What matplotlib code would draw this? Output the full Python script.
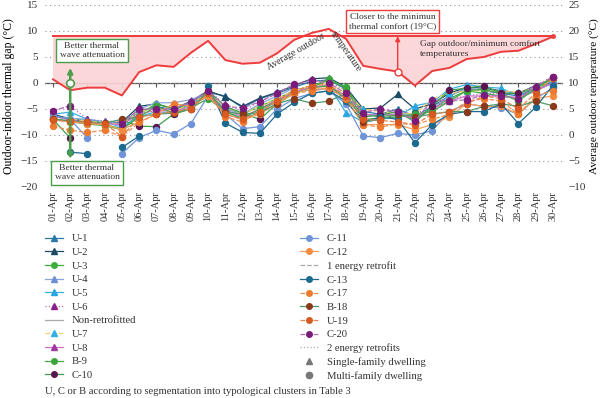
import numpy as np
import matplotlib
matplotlib.use("Agg")
import matplotlib.pyplot as plt
from matplotlib.lines import Line2D

plt.rcParams['font.family'] = ['Liberation Serif', 'DejaVu Serif']
plt.rcParams['axes.unicode_minus'] = True

nan = np.nan
days = ["01-Apr", "02-Apr", "03-Apr", "04-Apr", "05-Apr", "06-Apr", "07-Apr", "08-Apr", "09-Apr", "10-Apr",
        "11-Apr", "12-Apr", "13-Apr", "14-Apr", "15-Apr", "16-Apr", "17-Apr", "18-Apr", "19-Apr", "20-Apr",
        "21-Apr", "22-Apr", "23-Apr", "24-Apr", "25-Apr", "26-Apr", "27-Apr", "28-Apr", "29-Apr", "30-Apr"]

outdoor_temp = [10.7, 8.6, 9.1, 9.1, 7.6, 12.1, 13.4, 13.1, 15.8, 18.1, 14.4, 13.7, 13.9, 15.7, 18.3,
                19.6, 20.4, 18.5, 13.3, 12.7, 12.2, 9.5, 12.3, 12.9, 14.6, 15.0, 16.0, 16.2, 17.5, 18.9]
comfort_temp = 19

# Outdoor-indoor thermal gap per dwelling (°C)
U1 = [-6.2, -6.8, -7.2, -7.6, -8.0, -5.5, -4.5, -5.2, -3.8, -1.8, -2.5, -4.8, -3.0, -2.0, -0.8, 0.3, 0.6, -1.2, -5.5, -6.0, -5.0, -6.5, -4.5, -2.5, -1.0, -1.5, -2.0, -2.5, -1.0, 0.2]
U2 = [-6.0, -7.0, -7.5, -7.8, -7.5, -4.5, -4.0, -5.0, -3.5, -1.5, -2.7, -4.5, -2.9, -1.8, -0.5, 0.8, 1.0, -0.8, -5.0, -4.8, -2.2, -5.0, -4.0, -2.0, -0.8, -1.0, -1.5, -2.0, -0.5, 0.5]
U3 = [-6.8, -7.5, -7.8, -8.0, -8.8, -6.0, -4.0, -5.0, -4.2, -2.5, -4.8, -6.0, -4.5, -3.0, -1.5, -0.5, 0.5, -0.8, -6.0, -6.5, -6.0, -7.0, -5.0, -3.0, -1.5, -2.0, -2.5, -3.0, -1.5, 1.0]
U4 = [-6.5, -6.8, -7.0, -7.5, -7.8, -5.0, -3.8, -3.8, -3.2, -2.0, -5.0, -6.0, -4.0, -2.5, -1.0, -1.5, -1.0, -3.0, -6.5, -6.0, -5.5, -6.5, -5.0, -2.5, -1.0, -1.5, -1.8, -2.0, -1.0, -0.2]
U5 = [-6.0, -5.6, -7.0, -7.5, -8.5, -6.5, -5.5, -5.8, -4.0, -2.2, -5.5, -7.0, -5.5, -3.5, -1.8, -0.8, -0.5, -5.7, -7.5, -7.0, -6.5, -4.4, -3.7, -1.2, -0.3, -0.8, -1.0, -2.5, -1.5, 0.0]
U6 = [-5.3, -4.4, -7.0, -7.3, -7.5, -5.0, -5.0, -5.0, -3.5, -1.5, -4.0, -5.5, -3.5, -2.0, -0.3, 0.5, 0.3, -1.5, -5.5, -5.2, -5.5, -6.0, -4.5, -3.0, -2.5, -2.0, -2.0, -2.0, -0.5, 1.2]
U7 = [-6.5, -7.0, -7.3, -7.6, -8.0, -5.5, -5.0, -5.5, -4.0, -2.0, -4.5, -6.0, -4.5, -3.0, -1.5, -0.5, 0.0, -2.0, -5.0, -5.5, -5.8, -6.0, -3.0, -2.0, -1.5, -1.5, -1.5, -1.8, -1.0, 0.5]
U8 = [-6.3, -7.2, -7.5, -7.8, -8.0, -6.0, -5.2, -5.5, -4.5, -2.2, -5.2, -6.5, -5.0, -3.2, -1.8, -0.8, -0.5, -2.5, -6.0, -6.2, -6.0, -6.8, -5.0, -3.5, -2.5, -2.5, -2.5, -2.8, -1.5, 0.0]
B9 = [-7.0, -7.3, -7.9, -8.2, -9.0, -6.5, -4.5, -5.8, -4.8, -3.0, -5.5, -6.8, -5.0, -3.5, -2.0, -1.0, 0.8, -1.0, -7.0, -6.8, -6.5, -6.0, -5.5, -3.5, -1.5, -1.2, -2.0, -3.5, -1.0, 1.0]
C10 = [-7.0, -10.6, nan, nan, -7.2, -8.3, -8.4, -6.0, -5.0, -1.5, -4.5, -5.8, -7.0, -4.0, -2.0, -1.0, -0.5, -3.0, -6.5, -6.2, -5.5, -7.5, -4.5, -1.4, -1.0, -0.5, -2.0, -2.0, -1.0, 1.2]
C11 = [-6.3, -7.0, -10.6, nan, -13.6, -10.5, -9.1, -9.8, -7.8, -2.5, -6.0, -8.8, -8.4, -5.0, -3.0, -2.0, -1.5, -4.0, -10.2, -10.5, -9.7, -10.0, -9.2, -5.5, -4.0, -4.5, -4.8, -6.0, -3.0, -1.0]
C12 = [-7.0, -7.5, -7.8, -8.0, -9.0, -7.5, -6.0, -4.0, -4.5, -2.5, -6.0, -7.0, -6.0, -4.0, -2.0, -1.0, -1.0, -3.0, -8.0, -8.0, -8.0, -9.0, -8.0, -6.5, -4.0, -4.5, -4.5, -6.0, -3.0, -2.5]
C13 = [nan, -13.3, -13.6, nan, -12.4, -10.2, nan, nan, nan, -0.5, -7.7, -9.5, -9.7, -6.0, -3.7, -2.0, -1.5, -3.5, -7.5, -6.5, -7.0, -11.5, -8.0, -6.0, -5.5, -5.5, -4.0, -7.8, -4.7, -0.5]
C17 = [-8.3, -9.1, -9.5, -9.1, -10.3, -7.6, -6.0, -4.0, -4.5, -2.0, -6.5, -7.5, -5.5, -3.5, -2.0, -1.5, -1.0, -3.0, -8.0, -8.5, -7.8, -8.0, -7.0, -6.0, -3.5, -3.0, -3.5, -6.0, -2.5, -1.5]
B18 = [-7.0, -7.3, -7.5, -7.7, -7.0, -6.5, -6.0, -5.8, -5.0, -1.8, -5.5, -6.0, -5.7, -4.0, -3.0, -3.9, -3.5, -2.0, -7.5, -7.0, -6.0, -6.5, -6.0, -5.5, -5.5, -4.5, -4.0, -4.5, -3.5, -4.4]
U19 = [-7.2, -7.4, -7.6, -7.8, -10.3, -6.5, -6.0, -5.5, -5.0, -2.0, -6.0, -7.0, -5.5, -3.5, -1.5, -0.5, -0.3, -2.5, -7.0, -7.2, -7.5, -8.0, -6.0, -5.5, -4.0, -2.5, -3.0, -5.0, -2.0, 1.0]
C20 = [-5.3, -4.4, nan, nan, -7.8, -5.0, -5.1, -5.0, -3.7, -1.6, -4.5, -4.8, -3.6, -2.0, -0.2, 0.5, 0.0, -2.0, -5.7, -5.0, -5.5, -7.4, -3.2, -3.5, -3.2, -2.4, -2.5, -3.0, -0.7, 1.2]

series = [
    ("U-1", U1, '#2a78a8', '#2a78a8', '-', '^'),
    ("U-2", U2, '#1b4c63', '#1b4c63', '-', '^'),
    ("U-3", U3, '#3cae3c', '#3cae3c', '-', 'o'),
    ("U-4", U4, '#8aa6dc', '#6e8fd4', '-', '^'),
    ("U-5", U5, '#3ab0e0', '#2aa6e0', '-', '^'),
    ("U-6", U6, '#c070c0', '#8b1f8b', ':', '^'),
    ("U-7", U7, '#f0d060', '#30b0e8', '--', '^'),
    ("U-8", U8, '#d070c8', '#a03aa0', '-', '^'),
    ("B-9", B9, '#48a848', '#3aa53a', '-', 'o'),
    ("C-10", C10, '#3f9f4f', '#5a1550', '-', 'o'),
    ("C-11", C11, '#6f95d8', '#6f95d8', '-', 'o'),
    ("C-12", C12, '#f5a060', '#f58a40', '-', 'o'),
    ("C-13", C13, '#1d6a90', '#1d6a90', '-', 'o'),
    ("C-17", C17, '#f09050', '#ee7a30', '--', 'o'),
    ("B-18", B18, '#4a9a6a', '#8a3a1a', '-', 'o'),
    ("U-19", U19, '#e88050', '#d85a20', '--', 'o'),
    ("C-20", C20, '#b070b0', '#7a1a7a', '--', 'o'),
]

fig = plt.figure(figsize=(6.0, 3.98), dpi=100)
ax = fig.add_axes([0.075, 0.5302, 0.863, 0.4573])
x = np.arange(1, len(days) + 1)

ax.set_xlim(0.536, 30.58)
ax.set_ylim(-20, 15)
for s in ax.spines.values():
    s.set_visible(False)
ax.set_yticks([15, 10, 5, 0, -5, -10, -15, -20])
ax.grid(axis='y', linestyle=(0, (1, 3)), color='#999999', linewidth=0.8)
ax.tick_params(axis='y', length=0, labelsize=8, pad=5, colors='#333333')
ax.set_xticks(x)
ax.set_xticklabels(days, rotation=90, fontsize=7.5, color='#333333')
ax.tick_params(axis='x', length=0, pad=3)
ax.axhline(0, color='#555555', lw=0.9, zorder=1)
ax.vlines(x, -0.8, 0, color='#555555', lw=0.8, zorder=1)
ax.set_ylabel("Outdoor-indoor thermal gap (°C)", fontsize=8.5, labelpad=4)

for name, vals, lc, mc, ls, mk in series:
    ax.plot(x, vals, color=lc, linestyle=ls, lw=0.9, marker=mk, markersize=4.3,
            markerfacecolor=mc, markeredgecolor=mc, zorder=3)

ax2 = ax.twinx()
ax2.set_ylim(-10, 25)
for s in ax2.spines.values():
    s.set_visible(False)
ax2.set_yticks([25, 20, 15, 10, 5, 0, -5, -10])
ax2.tick_params(axis='y', length=0, labelsize=8, pad=4, colors='#333333')
ax2.set_ylabel("Average outdoor temperature (°C)", fontsize=8.2, labelpad=3)

red = '#ee3b3b'
ot = np.array(outdoor_temp)
ax2.fill_between(x, ot, comfort_temp, where=ot <= comfort_temp, interpolate=True,
                 color='#fbd3d6', alpha=0.9, zorder=0, lw=0)
ax2.plot(x, ot, color=red, lw=1.4, zorder=4)
ax2.plot(x, np.full(len(x), comfort_temp), color=red, lw=1.4, zorder=4)
ax2.plot([x[-1]], [comfort_temp], marker='o', markersize=2.5, color=red, zorder=4)

# red annotation arrow at 21-Apr
ax2.annotate('', xy=(x[20], comfort_temp), xytext=(x[20], outdoor_temp[20]),
             arrowprops=dict(arrowstyle='-|>', color=red, lw=1.0, mutation_scale=7,
                             shrinkA=0, shrinkB=0), zorder=5)
ax2.plot([x[20]], [outdoor_temp[20]], marker='o', markersize=5, markerfacecolor='white',
         markeredgecolor=red, mew=1.0, zorder=6)

# green attenuation arrows at 02-Apr
green = '#4c9e4c'
ax2.annotate('', xy=(x[1], 12.9), xytext=(x[1], 10),
             arrowprops=dict(arrowstyle='-|>', color=green, lw=1.8, mutation_scale=7,
                             shrinkA=0, shrinkB=0), zorder=7)
ax2.annotate('', xy=(x[1], -4.6), xytext=(x[1], 10),
             arrowprops=dict(arrowstyle='-|>', color=green, lw=1.8, mutation_scale=7,
                             shrinkA=0, shrinkB=0), zorder=7)
ax2.plot([x[1]], [10], marker='o', markersize=5.5, markerfacecolor='white',
         markeredgecolor=green, mew=1.2, zorder=8)

tb = dict(fontsize=6.8, ha='center', va='center', linespacing=1.15, color='#333333')
ax2.text(3.26, 16.2, "Better thermal\nwave attenuation",
         bbox=dict(boxstyle='square,pad=0.35', fc='white', ec=green, lw=1.0), zorder=9, **tb)
ax2.text(2.97, -7.3, "Better thermal\nwave attenuation",
         bbox=dict(boxstyle='square,pad=0.35', fc='white', ec=green, lw=1.0), zorder=9, **tb)
ax2.text(20.7, 21.8, "Closer to the minimun\nthermal confort (19°C)",
         bbox=dict(boxstyle='square,pad=0.35', fc='white', ec=red, lw=1.0), zorder=9, **tb)
ax2.text(22.3, 16.6, "Gap outdoor/minimum comfort\ntemperatures", fontsize=6.8, ha='left',
         va='center', linespacing=1.3, color='#333333', zorder=9)
ax2.text(15.1, 16.0, "Average outdoor", fontsize=7, rotation=30, ha='center', va='center',
         color='#333333', zorder=9)
ax2.text(18.0, 16.0, "temperature", fontsize=7, rotation=-55, ha='center', va='center',
         color='#333333', zorder=9)

# legends
def h(lc, mc, ls, mk):
    return Line2D([], [], color=lc, linestyle=ls, lw=0.9, marker=mk, markersize=4,
                  markerfacecolor=mc, markeredgecolor=mc)

sd = {name: (lc, mc, ls, mk) for name, vals, lc, mc, ls, mk in series}
gray = '#aaaaaa'
col1 = ["U-1", "U-2", "U-3", "U-4", "U-5", "U-6", "Non-retrofitted", "U-7", "U-8", "B-9", "C-10"]
col2 = ["C-11", "C-12", "1 energy retrofit", "C-13", "C-17", "B-18", "U-19", "C-20",
        "2 energy retrofits", "Single-family dwelling", "Multi-family dwelling"]
extra = {
    "Non-retrofitted": Line2D([], [], color=gray, lw=0.9),
    "1 energy retrofit": Line2D([], [], color=gray, lw=0.9, linestyle='--'),
    "2 energy retrofits": Line2D([], [], color=gray, lw=0.9, linestyle=':'),
    "Single-family dwelling": Line2D([], [], color='#777777', lw=0, marker='^', markersize=4),
    "Multi-family dwelling": Line2D([], [], color='#777777', lw=0, marker='o', markersize=4.5),
}

def handles(names):
    return [extra[n] if n in extra else h(*sd[n]) for n in names]

lk = dict(loc='upper left', frameon=False, fontsize=7.7, handlelength=1.7, handletextpad=0.8,
          labelspacing=0.39, borderaxespad=0, borderpad=0)
l1 = fig.legend(handles(col1), col1, bbox_to_anchor=(45 / 600, 1 - 234 / 398), **lk)
l2 = fig.legend(handles(col2), col2, bbox_to_anchor=(300 / 600, 1 - 234 / 398), **lk)
for lg in (l1, l2):
    for t in lg.get_texts():
        t.set_color('#333333')

fig.text(45 / 600, 1 - 391 / 398, "U, C or B according to segmentation into typological clusters in Table 3",
         fontsize=7.7, va='center', ha='left', color='#333333')

fig.savefig("out.png", dpi=100)
